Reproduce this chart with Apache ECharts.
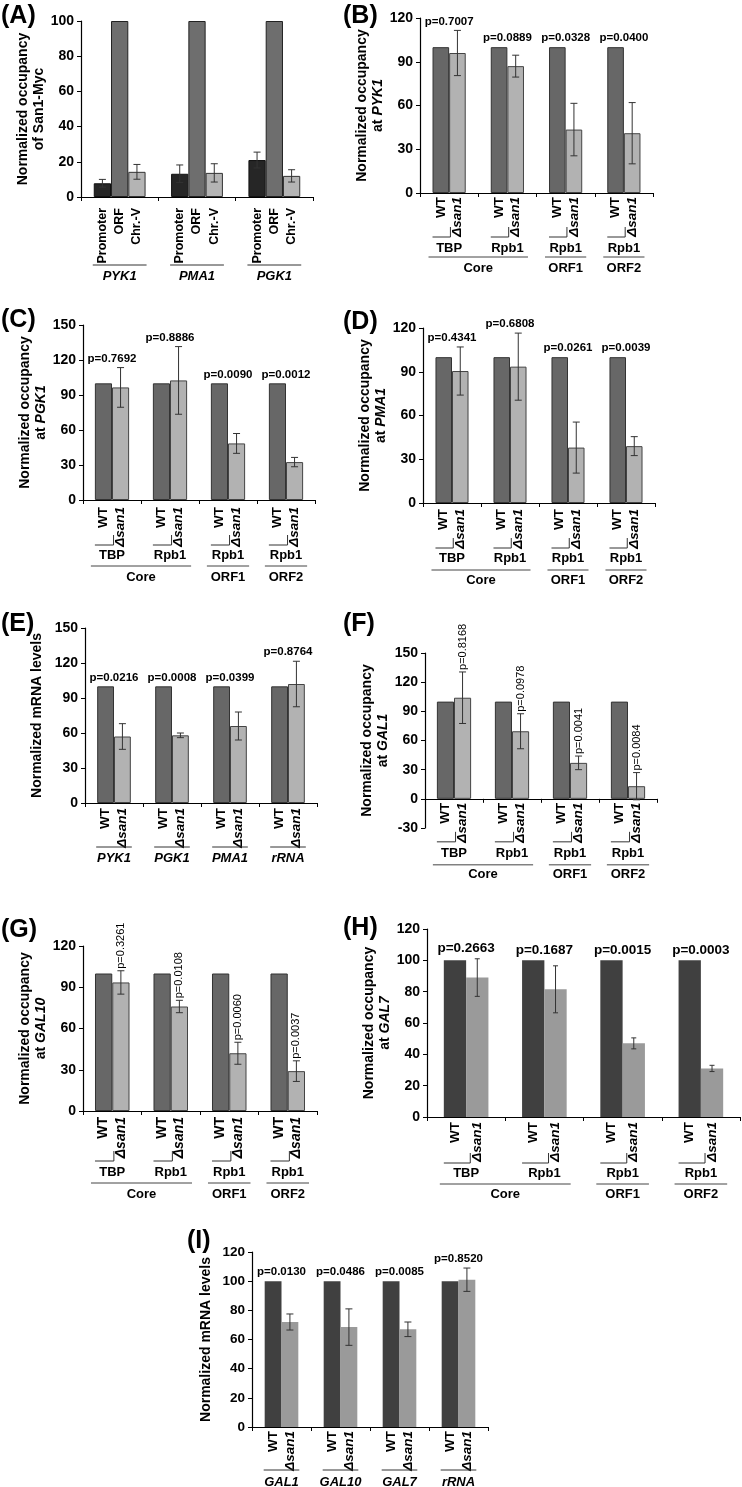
<!DOCTYPE html>
<html><head><meta charset="utf-8">
<script src="https://cdn.jsdelivr.net/npm/echarts@6/dist/echarts.min.js"></script>
<style>html,body{margin:0;padding:0;background:#fff}#c{width:742px;height:1487px}</style>
</head><body><div id="c"></div>
<script>
// ---------------- DATA ----------------
const strainLabels = ['WT', '\u0394san1'];
const occTargets = ['TBP', 'Rpb1', 'Rpb1', 'Rpb1'];
const occRegions = [['Core', 0, 1], ['ORF1', 2, 2], ['ORF2', 3, 3]];
const wtValues = [100, 100, 100, 100];

// (A) San1-Myc occupancy
const A_genes = ['PYK1', 'PMA1', 'PGK1'];
const A_regions = ['Promoter', 'ORF', 'Chr.-V'];
const A_promoter = [7.8, 13.2, 21.0];
const A_promoterErr = [2.2, 5.0, 4.5];
const A_orf = [100, 100, 100];
const A_chrV = [14.3, 13.7, 12.0];
const A_chrVErr = [4.2, 5.2, 3.5];
const A_yTicks = { min: 0, max: 100, interval: 20 };

// (B) PYK1
const B_san1 = [96, 87, 43.5, 41];
const B_san1Err = [15.5, 7.5, 18, 21];
const B_p = ['p=0.7007', 'p=0.0889', 'p=0.0328', 'p=0.0400'];
const B_yTicks = { min: 0, max: 120, interval: 30 };

// (C) PGK1
const C_san1 = [96.5, 102.5, 48.5, 32.5];
const C_san1Err = [17, 29, 8.5, 4];
const C_p = ['p=0.7692', 'p=0.8886', 'p=0.0090', 'p=0.0012'];
const C_yTicks = { min: 0, max: 150, interval: 30 };

// (D) PMA1
const D_san1 = [90.5, 93.5, 38, 39];
const D_san1Err = [16.5, 23, 17.5, 6.5];
const D_p = ['p=0.4341', 'p=0.6808', 'p=0.0261', 'p=0.0039'];
const D_yTicks = { min: 0, max: 120, interval: 30 };

// (E) mRNA
const E_genes = ['PYK1', 'PGK1', 'PMA1', 'rRNA'];
const E_san1 = [57, 58, 66, 102];
const E_san1Err = [11, 2, 12, 19.5];
const E_p = ['p=0.0216', 'p=0.0008', 'p=0.0399', 'p=0.8764'];
const E_yTicks = { min: 0, max: 150, interval: 30 };

// (F) GAL1
const F_san1 = [104, 69.5, 37, 13];
const F_san1Err = [26.5, 18, 7, 14];
const F_p = ['p=0.8168', 'p=0.0978', 'p=0.0041', 'p=0.0084'];
const F_yTicks = { min: -30, max: 150, interval: 30 };

// (G) GAL10
const G_san1 = [93.5, 76, 42, 29];
const G_san1Err = [8.5, 4.5, 8, 7.5];
const G_p = ['p=0.3261', 'p=0.0108', 'p=0.0060', 'p=0.0037'];
const G_yTicks = { min: 0, max: 120, interval: 30 };

// (H) GAL7
const H_san1 = [89, 81.5, 47, 31];
const H_san1Err = [12, 15, 3.5, 2];
const H_p = ['p=0.2663', 'p=0.1687', 'p=0.0015', 'p=0.0003'];
const H_yTicks = { min: 0, max: 120, interval: 20 };

// (I) GAL mRNA
const I_genes = ['GAL1', 'GAL10', 'GAL7', 'rRNA'];
const I_san1 = [72, 68.5, 67, 101];
const I_san1Err = [5.5, 12.5, 5, 8];
const I_p = ['p=0.0130', 'p=0.0486', 'p=0.0085', 'p=0.8520'];
const I_yTicks = { min: 0, max: 120, interval: 20 };

// ---------------- BUILD ----------------
const FONT = "'Liberation Sans', Arial, Helvetica, sans-serif";
const grids = [], xAxes = [], yAxes = [], series = [], graphics = [];

function barPos(api, i, s, n, gap) {
  const c = api.coord([i, 0])[0];
  const band = api.size([1, 0])[0];
  const bw = band * (1 - gap) / n;
  return { x: c - n * bw / 2 + (s + 0.5) * bw, bw: bw };
}
function seg(x1, y1, x2, y2, color) {
  return { type: 'line', shape: { x1: x1, y1: y1, x2: x2, y2: y2 }, style: { stroke: color || '#222', lineWidth: 1 } };
}
function txt(t, x, y, o) {
  o = o || {};
  return {
    type: 'text', x: x, y: y, rotation: o.rot || 0,
    style: {
      text: t, align: o.align || 'center', verticalAlign: o.va || 'middle',
      fontSize: o.size || 13, fontWeight: o.weight || 'bold', fontStyle: o.italic ? 'italic' : 'normal',
      fontFamily: FONT, fill: '#000'
    }
  };
}

function addPanel(cfg) {
  const k = grids.length;
  const n = cfg.bars.length, gap = cfg.gap;
  grids.push(Object.assign({ containLabel: false }, cfg.grid));
  xAxes.push({
    type: 'category', gridIndex: k, data: cfg.categories,
    axisLine: { lineStyle: { color: '#000', width: 1.2 } },
    axisTick: { show: true, length: 4, lineStyle: { color: '#000' } },
    axisLabel: { show: false }, splitLine: { show: false }
  });
  yAxes.push({
    type: 'value', gridIndex: k, min: cfg.y.min, max: cfg.y.max, interval: cfg.y.interval,
    axisLine: { show: true, lineStyle: { color: '#000', width: 1.2 } },
    axisTick: { show: true, length: 4, lineStyle: { color: '#000' } },
    splitLine: { show: false },
    axisLabel: { color: '#000', fontWeight: 'bold', fontSize: cfg.tickSize || 14, fontFamily: FONT, margin: 7 },
    name: cfg.yName, nameLocation: 'middle', nameRotate: 90, nameGap: cfg.nameGap,
    nameTextStyle: {
      color: '#000', fontWeight: 'bold', fontSize: 14, fontFamily: FONT, lineHeight: 16, align: 'center',
      rich: { i: { fontStyle: 'italic', fontWeight: 'bold', fontSize: 14, fontFamily: FONT, lineHeight: 16, color: '#000' } }
    }
  });
  cfg.bars.forEach(function (b, s) {
    series.push({
      type: 'bar', xAxisIndex: k, yAxisIndex: k, data: b.data, barGap: '0%',
      barCategoryGap: Math.round(gap * 100) + '%', silent: true, animation: false, z: 2,
      itemStyle: { color: b.color, borderColor: b.border || b.color, borderWidth: b.border ? 1 : 0 }
    });
  });
  cfg.bars.forEach(function (b, s) {
    if (!b.err) return;
    series.push({
      type: 'custom', xAxisIndex: k, yAxisIndex: k, silent: true, animation: false, z: 5,
      data: b.data.map(function (v, i) { return [i, v, b.err[i]]; }),
      renderItem: function (params, api) {
        const i = api.value(0), v = api.value(1), e = api.value(2);
        const p = barPos(api, i, s, n, gap);
        const yH = api.coord([i, v + e])[1], yL = api.coord([i, v - e])[1];
        const cw = (cfg.capW || 7) / 2;
        return {
          type: 'group', children: [
            seg(p.x, yH, p.x, yL, '#333'), seg(p.x - cw, yH, p.x + cw, yH, '#333'), seg(p.x - cw, yL, p.x + cw, yL, '#333')
          ]
        };
      }
    });
  });
  // p-value labels
  if (cfg.p) {
    const last = cfg.bars[n - 1];
    series.push({
      type: 'custom', xAxisIndex: k, yAxisIndex: k, silent: true, animation: false, z: 6,
      data: cfg.categories.map(function (c, i) {
        const top = cfg.pMode === 'vertical' ? last.data[i] + last.err[i]
          : Math.max.apply(null, cfg.bars.map(function (b) { return b.data[i] + (b.err ? b.err[i] : 0); }));
        return [i, top];
      }),
      renderItem: function (params, api) {
        const i = api.value(0), top = api.value(1);
        const y = api.coord([i, top])[1];
        if (cfg.pMode === 'vertical') {
          const p = barPos(api, i, n - 1, n, gap);
          return txt(cfg.p[i], p.x, y - 2, { rot: Math.PI / 2, align: 'left', va: 'middle', size: cfg.pSize || 11, weight: 'normal' });
        }
        const cx = api.coord([i, 0])[0];
        return txt(cfg.p[i], cx, y - 3, { align: 'center', va: 'bottom', size: cfg.pSize || 11.5, weight: 'bold' });
      }
    });
  }
  // below-axis decorations
  const D = cfg.deco;
  series.push({
    type: 'custom', xAxisIndex: k, yAxisIndex: k, silent: true, animation: false, z: 6,
    data: cfg.categories.map(function (c, i) { return [i, 0]; }),
    renderItem: function (params, api) {
      const i = api.value(0);
      const y0 = api.coord([i, 0])[1];
      const ch = [];
      const xs = [];
      for (let s = 0; s < n; s++) xs.push(barPos(api, i, s, n, gap));
      cfg.barLabels.forEach(function (t, s) {
        ch.push(txt(t, xs[s].x, y0 + D.lblGap, {
          rot: Math.PI / 2, align: 'right', va: 'middle', size: D.lblSize || 13.5,
          italic: cfg.barItalic && cfg.barItalic[s]
        }));
      });
      const left = xs[0].x - xs[0].bw / 2, right = xs[n - 1].x + xs[n - 1].bw / 2;
      const uy = y0 + D.ul1;
      if (D.cut) {
        const cx = xs[n - 1].x - D.cut;
        ch.push(seg(left, uy, cx, uy, '#333'));
        ch.push(seg(cx, uy, cx, uy - (D.tickH || 10), '#333'));
      } else {
        ch.push(seg(left - 1, uy, right + 1, uy, '#333'));
      }
      ch.push(txt(cfg.level1[i], (left + right) / 2, y0 + D.lab1, { size: D.grpSize || 13, italic: cfg.level1Italic }));
      if (cfg.level2) {
        cfg.level2.forEach(function (g) {
          if (g[1] !== i) return;
          const a = barPos(api, g[1], 0, n, gap), b = barPos(api, g[2], n - 1, n, gap);
          const l = a.x - a.bw / 2 - 4, r = b.x + b.bw / 2 + 4;
          ch.push(seg(l, y0 + D.ul2, r, y0 + D.ul2, '#444'));
          ch.push(txt(g[0], (l + r) / 2, y0 + D.lab2, { size: D.grpSize || 13 }));
        });
      }
      return { type: 'group', children: ch };
    }
  });
}

const WT_COL = '#676767', SAN_COL = '#b2b2b2';
const WT_DARK = '#404040', SAN_MID = '#9a9a9a';

function occBars(san, err) {
  return [{ data: wtValues, color: WT_COL, border: '#333' }, { data: san, err: err, color: SAN_COL, border: '#444' }];
}
function darkBars(san, err) {
  return [{ data: wtValues, color: WT_DARK }, { data: san, err: err, color: SAN_MID }];
}

// (A)
addPanel({
  grid: { left: 81, top: 21, width: 232, height: 176 }, y: A_yTicks, categories: A_genes,
  yName: 'Normalized occupancy\nof San1-Myc', nameGap: 31, gap: 0.33,
  bars: [
    { data: A_promoter, err: A_promoterErr, color: '#262626', border: '#111' },
    { data: A_orf, color: '#6e6e6e', border: '#222' },
    { data: A_chrV, err: A_chrVErr, color: '#b4b4b4', border: '#333' }
  ],
  barLabels: A_regions, level1: A_genes, level1Italic: true,
  deco: { lblGap: 11, ul1: 68, lab1: 79, lblSize: 12.5 }
});
// (B)
addPanel({
  grid: { left: 420, top: 18, width: 233, height: 175 }, y: B_yTicks, categories: occTargets,
  yName: 'Normalized occupancy\nat {i|PYK1}', nameGap: 28, gap: 0.43,
  bars: occBars(B_san1, B_san1Err), p: B_p, pMode: 'horizontal',
  barLabels: strainLabels, barItalic: [false, true], level1: occTargets, level2: occRegions,
  deco: { lblGap: 4, ul1: 44, lab1: 55, ul2: 64, lab2: 75, cut: 7 }
});
// (C)
addPanel({
  grid: { left: 83, top: 325, width: 232, height: 175 }, y: C_yTicks, categories: occTargets,
  yName: 'Normalized occupancy\nat {i|PGK1}', nameGap: 32, gap: 0.41,
  bars: occBars(C_san1, C_san1Err), p: C_p, pMode: 'horizontal',
  barLabels: strainLabels, barItalic: [false, true], level1: occTargets, level2: occRegions,
  deco: { lblGap: 7, ul1: 45, lab1: 55, ul2: 66, lab2: 77, cut: 7 }
});
// (D)
addPanel({
  grid: { left: 423, top: 328, width: 232, height: 175 }, y: D_yTicks, categories: occTargets,
  yName: 'Normalized occupancy\nat {i|PMA1}', nameGap: 31, gap: 0.43,
  bars: occBars(D_san1, D_san1Err), p: D_p, pMode: 'horizontal',
  barLabels: strainLabels, barItalic: [false, true], level1: occTargets, level2: occRegions,
  deco: { lblGap: 6, ul1: 45, lab1: 55, ul2: 67, lab2: 77, cut: 7 }
});
// (E)
addPanel({
  grid: { left: 85, top: 628, width: 232, height: 175 }, y: E_yTicks, categories: E_genes,
  yName: 'Normalized mRNA levels', nameGap: 40, gap: 0.42,
  bars: occBars(E_san1, E_san1Err), p: E_p, pMode: 'horizontal',
  barLabels: strainLabels, barItalic: [false, true], level1: E_genes, level1Italic: true,
  deco: { lblGap: 5, ul1: 44, lab1: 55 }
});
// (F)
addPanel({
  grid: { left: 425, top: 653, width: 232, height: 175 }, y: F_yTicks, categories: occTargets,
  yName: 'Normalized occupancy\nat {i|GAL1}', nameGap: 33, gap: 0.41,
  bars: occBars(F_san1, F_san1Err), p: F_p, pMode: 'vertical',
  barLabels: strainLabels, barItalic: [false, true], level1: occTargets, level2: occRegions,
  deco: { lblGap: 4, ul1: 43, lab1: 55, ul2: 66, lab2: 76, cut: 7 }
});
// (G)
addPanel({
  grid: { left: 83, top: 946, width: 234, height: 165 }, y: G_yTicks, categories: occTargets,
  yName: 'Normalized occupancy\nat {i|GAL10}', nameGap: 32, gap: 0.41,
  bars: occBars(G_san1, G_san1Err), p: G_p, pMode: 'vertical',
  barLabels: strainLabels, barItalic: [false, true], level1: occTargets, level2: occRegions,
  deco: { lblGap: 6, ul1: 50, lab1: 61, ul2: 72, lab2: 83, cut: 7, lblSize: 14 }
});
// (H)
addPanel({
  grid: { left: 427, top: 929, width: 313, height: 188 }, y: H_yTicks, categories: occTargets,
  yName: 'Normalized occupancy\nat {i|GAL7}', nameGap: 34, gap: 0.43, capW: 5,
  bars: darkBars(H_san1, H_san1Err), p: H_p, pMode: 'horizontal', pSize: 13.5,
  barLabels: strainLabels, barItalic: [false, true], level1: occTargets, level2: occRegions,
  deco: { lblGap: 5, ul1: 46, lab1: 56, ul2: 67, lab2: 77, cut: 7 }
});
// (I)
addPanel({
  grid: { left: 252, top: 1252, width: 236, height: 175 }, y: I_yTicks, categories: I_genes,
  yName: 'Normalized mRNA levels', nameGap: 38, gap: 0.43, tickSize: 13.5,
  bars: darkBars(I_san1, I_san1Err), p: I_p, pMode: 'horizontal',
  barLabels: strainLabels, barItalic: [false, true], level1: I_genes, level1Italic: true,
  deco: { lblGap: 4, ul1: 43, lab1: 55 }
});

// panel letters
const panelLetters = [['(A)', 1, 16], ['(B)', 343, 16], ['(C)', 1, 320], ['(D)', 343, 322], ['(E)', 1, 624],
  ['(F)', 343, 624], ['(G)', 1, 930], ['(H)', 343, 928], ['(I)', 187, 1241]];
panelLetters.forEach(function (p) {
  graphics.push({ type: 'text', x: p[1], y: p[2], silent: true,
    style: { text: p[0], fontSize: 25, fontWeight: 'bold', fontFamily: FONT, fill: '#000', verticalAlign: 'middle', align: 'left' } });
});

const chart = echarts.init(document.getElementById('c'), null, { renderer: 'canvas' });
chart.setOption({
  animation: false, backgroundColor: '#fff',
  textStyle: { fontFamily: FONT },
  grid: grids, xAxis: xAxes, yAxis: yAxes, series: series, graphic: graphics
});
</script></body></html>
